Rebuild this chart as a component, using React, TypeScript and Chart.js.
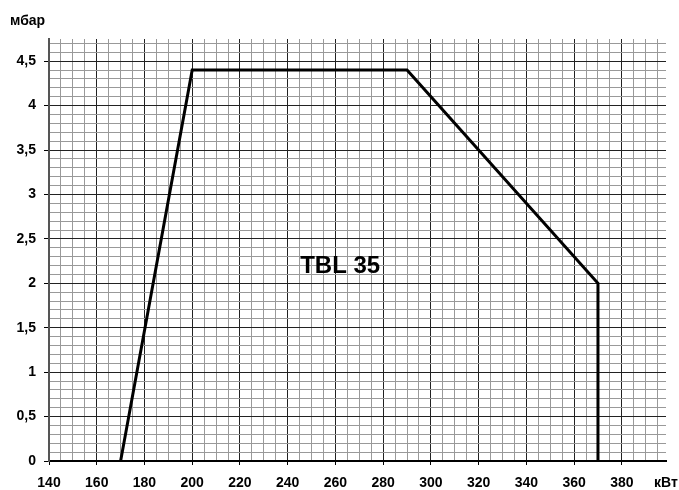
import React, { useEffect, useRef } from "react";
import { Chart, registerables } from "chart.js";

Chart.register(...registerables);

// Data
const powerKW = [170, 200, 290, 370, 370];
const pressureMbar = [0, 4.4, 4.4, 2, 0];

const xMin = 140;
const xMax = 398.5;
const yMin = 0;
const yMax = 4.75;
const xMajorStep = 20;
const xMinorStep = 5;
const yMajorStep = 0.5;
const yMinorStep = 0.1;

const xUnitLabel = "кВт";
const yUnitLabel = "мбар";
const seriesLabel = "TBL 35";
const seriesLabelAt = { x: 262, y: 2.19 };

const FONT = "'Liberation Sans', Arial, Helvetica, sans-serif";

const isMultiple = (v: number, step: number) =>
  Math.abs(v / step - Math.round(v / step)) < 1e-6;

const fmtY = (v: number) => {
  const r = Math.round(v * 10) / 10;
  return String(r).replace(".", ",");
};

const overlayPlugin = {
  id: "overlayText",
  afterDraw(chart: any) {
    const { ctx, scales } = chart;
    ctx.save();
    ctx.fillStyle = "#000";
    ctx.font = `bold 14px ${FONT}`;
    ctx.textAlign = "left";
    ctx.textBaseline = "alphabetic";
    ctx.fillText(yUnitLabel, 10, 25);
    ctx.textAlign = "center";
    ctx.textBaseline = "middle";
    ctx.fillText(xUnitLabel, 666, 483);
    ctx.font = `bold 24px ${FONT}`;
    ctx.fillText(
      seriesLabel,
      scales.x.getPixelForValue(seriesLabelAt.x),
      scales.y.getPixelForValue(seriesLabelAt.y)
    );
    ctx.restore();
  },
};

export default function App() {
  const canvasRef = useRef<HTMLCanvasElement | null>(null);

  useEffect(() => {
    if (!canvasRef.current) return;
    const chart = new Chart(canvasRef.current, {
      type: "line",
      data: {
        datasets: [
          {
            data: powerKW.map((x, i) => ({ x, y: pressureMbar[i] })),
            borderColor: "#000",
            borderWidth: 3,
            pointRadius: 0,
            fill: false,
            tension: 0,
          },
        ],
      },
      options: {
        animation: false,
        responsive: false,
        maintainAspectRatio: false,
        layout: { padding: { top: 39, right: 13, left: 0, bottom: 0 } },
        plugins: {
          legend: { display: false },
          tooltip: { enabled: false },
        },
        scales: {
          x: {
            type: "linear",
            min: xMin,
            max: xMax,
            afterFit: (scale: any) => {
              scale.height = 29;
            },
            border: { color: "#000", width: 2 },
            grid: {
              color: (ctx: any) =>
                isMultiple(ctx.tick.value, xMajorStep) ? "#222" : "#999",
              tickColor: (ctx: any) =>
                isMultiple(ctx.tick.value, xMajorStep) ? "#000" : "rgba(0,0,0,0)",
              lineWidth: 1,
              tickLength: 4,
            },
            ticks: {
              stepSize: xMinorStep,
              includeBounds: false,
              autoSkip: false,
              maxRotation: 0,
              minRotation: 0,
              padding: 10,
              color: "#000",
              font: { family: FONT, size: 14, weight: "bold" },
              callback: (v: any) =>
                isMultiple(Number(v), xMajorStep) ? String(Math.round(Number(v))) : "",
            },
          },
          y: {
            type: "linear",
            min: yMin,
            max: yMax,
            afterFit: (scale: any) => {
              scale.width = 49;
            },
            border: { color: "#555", width: 2 },
            grid: {
              color: (ctx: any) =>
                isMultiple(ctx.tick.value, yMajorStep) ? "#222" : "#999",
              tickColor: (ctx: any) =>
                isMultiple(ctx.tick.value, yMajorStep) ? "#000" : "rgba(0,0,0,0)",
              lineWidth: 1,
              tickLength: 5,
            },
            ticks: {
              stepSize: yMinorStep,
              includeBounds: false,
              autoSkip: false,
              padding: 8,
              color: "#000",
              font: { family: FONT, size: 14, weight: "bold" },
              callback: (v: any) =>
                isMultiple(Number(v), yMajorStep) ? fmtY(Number(v)) : "",
            },
          },
        },
      },
      plugins: [overlayPlugin],
    } as any);
    return () => chart.destroy();
  }, []);

  return (
    <div style={{ position: "absolute", left: 0, top: 0, width: 679, height: 490, background: "#fff" }}>
      <canvas ref={canvasRef} width={679} height={490} style={{ width: 679, height: 490 }} />
    </div>
  );
}
